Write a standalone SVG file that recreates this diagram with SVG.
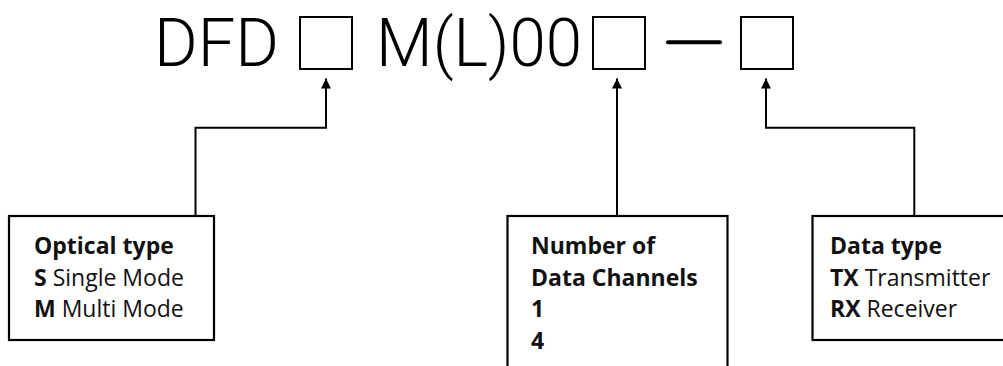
<svg xmlns="http://www.w3.org/2000/svg" width="1003" height="366" viewBox="0 0 1003 366">
<style>
.title{font-family:"Roboto","Open Sans",sans-serif;font-weight:300;font-size:67px;fill:#000}
.slot{fill:none;stroke:#000;stroke-width:2}
.box{fill:#fff;stroke:#000;stroke-width:2.2}
.conn{fill:none;stroke:#000;stroke-width:2}
.t{font-family:"Open Sans","Noto Sans",sans-serif;font-size:23px;fill:#111}
.b{font-weight:700}
</style>
<defs>
<marker id="arr" markerWidth="11" markerHeight="10" refX="10" refY="5" orient="auto" markerUnits="userSpaceOnUse">
<path d="M0,0 L10,5 L0,10 Z" fill="#000"/>
</marker>
</defs>
<rect width="1003" height="366" fill="#fff"/>
<g id="title">
<text class="title" x="154" y="65.5" textLength="125" lengthAdjust="spacingAndGlyphs">DFD</text>
<rect class="slot" x="300" y="17" width="52" height="52"/>
<text class="title" x="376" y="66" textLength="206" lengthAdjust="spacingAndGlyphs">M(L)00</text>
<rect class="slot" x="593" y="17" width="52" height="52"/>
<line x1="668" y1="42.3" x2="720" y2="42.3" stroke="#000" stroke-width="4" stroke-linecap="round"/>
<rect class="slot" x="741" y="17" width="52" height="52"/>
</g>
<g id="connectors">
<polyline class="conn" points="195.5,216 195.5,127.7 326,127.7 326,78.5" marker-end="url(#arr)"/>
<polyline class="conn" points="617,216 617,78.5" marker-end="url(#arr)"/>
<polyline class="conn" points="914.3,216 914.3,127.7 766,127.7 766,78.5" marker-end="url(#arr)"/>
</g>
<g id="optical-type">
<rect class="box" x="9" y="216" width="205" height="124"/>
<text class="t b" x="34" y="253.5">Optical type</text>
<text class="t" x="34" y="285.5"><tspan class="b">S</tspan> Single Mode</text>
<text class="t" x="34" y="317"><tspan class="b">M</tspan> Multi Mode</text>
</g>
<g id="data-channels">
<rect class="box" x="507.5" y="216" width="220" height="170"/>
<text class="t b" x="531" y="253.5">Number of</text>
<text class="t b" x="531" y="285.5">Data Channels</text>
<text class="t b" x="531" y="317">1</text>
<text class="t b" x="531" y="348.5">4</text>
</g>
<g id="data-type">
<rect class="box" x="812.5" y="216" width="210" height="124"/>
<text class="t b" x="830" y="253.5">Data type</text>
<text class="t" x="830" y="285.5"><tspan class="b">TX</tspan> Transmitter</text>
<text class="t" x="830" y="317"><tspan class="b">RX</tspan> Receiver</text>
</g>
</svg>
